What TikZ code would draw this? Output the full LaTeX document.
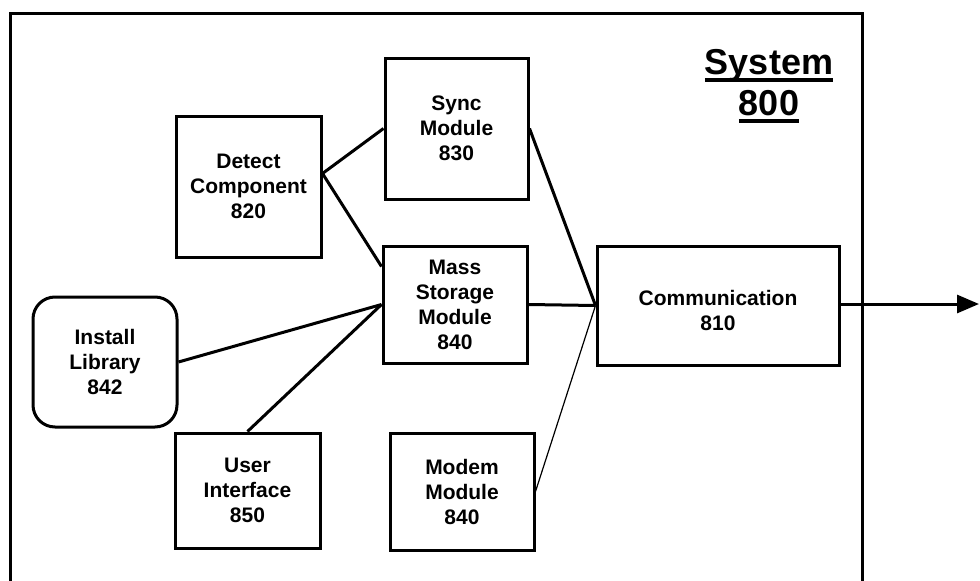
\documentclass[tikz,border=0pt]{standalone}
\usepackage{fontspec}
\setmainfont{Liberation Sans}
\usetikzlibrary{arrows.meta,calc}
\newcommand\myul[1]{\setbox0\hbox{#1}\rlap{\rule[-7pt]{\wd0}{3.5pt}}\box0}
\tikzset{
  blk/.style={draw,line width=3pt,rectangle,align=center,font=\fontsize{21}{25}\selectfont\bfseries,inner sep=0pt},
  rblk/.style={blk,rounded corners=22pt},
  conn/.style={line width=3pt},
  thin conn/.style={line width=1.2pt},
}
\begin{document}
\begin{tikzpicture}[x=1pt,y=-1pt]
\useasboundingbox (0,0) rectangle (980,581);
\clip (0,0) rectangle (980,581);
\draw[line width=3pt] (10,600) -- (10,13) -- (862,13) -- (862,600);
\node[font=\fontsize{36}{40}\selectfont\bfseries,align=center] (title) at (769,86) {\myul{System}\\[1pt]\myul{800}};
\node[blk,minimum width=145pt,minimum height=141pt] (detect) at (248.5,186.5) {Detect\\Component\\820};
\node[blk,minimum width=143pt,minimum height=141pt] (sync) at (456.5,128.5) {Sync\\Module\\830};
\node[blk,minimum width=144pt,minimum height=117pt] (mass) at (455,304.5) {Mass\\Storage\\Module\\840};
\node[rblk,minimum width=144pt,minimum height=130pt] (install) at (105,362) {Install\\Library\\842};
\node[blk,minimum width=145pt,minimum height=115pt] (ui) at (247.5,490.5) {User\\Interface\\850};
\node[blk,minimum width=144pt,minimum height=117pt] (modem) at (462,491.5) {Modem\\Module\\840};
\node[blk,minimum width=242pt,minimum height=119pt] (comm) at (718,305.5) {};
\node[align=center,font=\fontsize{21}{25}\selectfont\bfseries,inner sep=0pt] (commtext) at ($(comm.center)+(0,5)$) {Communication\\810};
\coordinate (d1) at ($(detect.east)+(0,-13)$);
\coordinate (m1) at ($(mass.north west)+(0,22)$);
\coordinate (out) at (979,304);
\draw[conn] (d1) -- (sync.west);
\draw[conn] (d1) -- (m1);
\draw[conn] (sync.east) -- (comm.west);
\draw[conn] (mass.east) -- (comm.west);
\draw[conn] (install.east) -- (mass.west);
\draw[conn] (ui.north) -- (mass.west);
\draw[thin conn] (modem.east) -- (comm.west);
\draw[conn,-{Triangle[length=22pt,width=18pt]}] (comm.east |- out) -- (out);
\end{tikzpicture}
\end{document}
